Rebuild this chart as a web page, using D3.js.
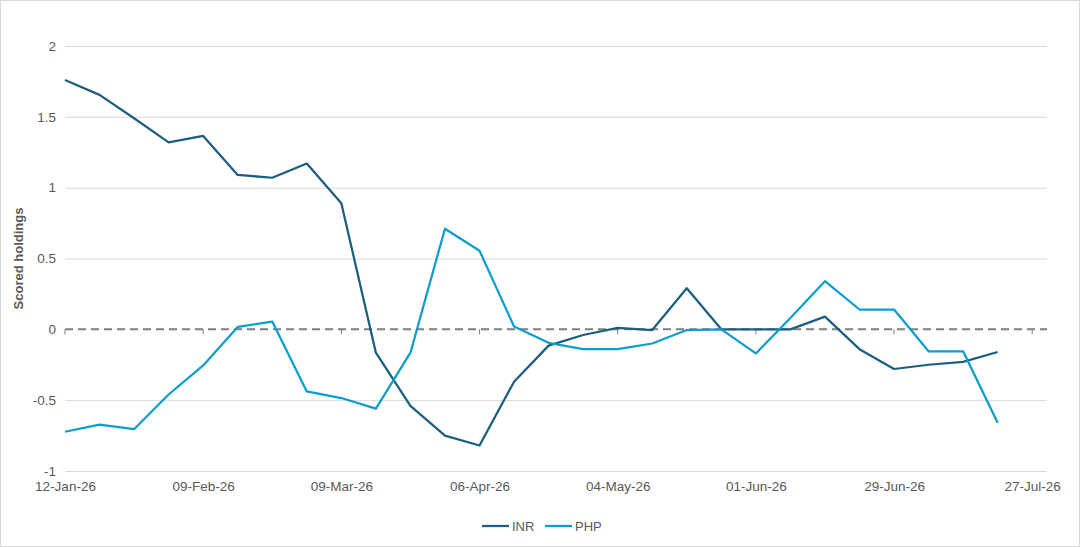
<!DOCTYPE html>
<html>
<head>
<meta charset="utf-8">
<script src="https://cdn.jsdelivr.net/npm/d3@7"></script>
<style>
  html, body { margin: 0; padding: 0; background: #fff; }
  svg { display: block; font-family: "Liberation Sans", Arial, sans-serif; }
</style>
</head>
<body>
<svg id="chart" width="1080" height="547"></svg>
<script>
const startDate = "2026-01-12";
const weekCount = 28;
const inrValues = [1.76, 1.655, 1.49, 1.32, 1.365, 1.09, 1.07, 1.17, 0.89, -0.165, -0.54, -0.75, -0.82, -0.37, -0.115, -0.04, 0.01, -0.005, 0.29, 0.0, 0.0, 0.0, 0.09, -0.14, -0.28, -0.25, -0.23, -0.16];
const phpValues = [-0.723, -0.672, -0.705, -0.46, -0.255, 0.017, 0.055, -0.438, -0.485, -0.56, -0.165, 0.71, 0.555, 0.02, -0.095, -0.14, -0.14, -0.10, -0.005, 0.0, -0.17, 0.08, 0.34, 0.14, 0.14, -0.155, -0.155, -0.66];
const xTickLabels = ["12-Jan-26", "09-Feb-26", "09-Mar-26", "06-Apr-26", "04-May-26", "01-Jun-26", "29-Jun-26", "27-Jul-26"];
const yTicks = [-1, -0.5, 0, 0.5, 1, 1.5, 2];
const seriesNames = ["INR", "PHP"];
const seriesColors = ["#1b5e7f", "#0c9dcb"];

const parse = d3.utcParse("%Y-%m-%d");
const parseLbl = d3.utcParse("%d-%b-%y");
const fmt = d3.utcFormat("%d-%b-%y");
const t0 = parse(startDate);
const dates = d3.range(weekCount).map(i => d3.utcDay.offset(t0, i * 7));
const series = [inrValues, phpValues].map((vals, si) => ({
  name: seriesNames[si], color: seriesColors[si],
  points: vals.map((v, i) => ({ date: dates[i], value: v }))
}));

const svg = d3.select("#chart");
const W = 1080, H = 547;
const m = { left: 65, right: 33, top: 46, bottom: 76 };

svg.append("rect").attr("x", 0.5).attr("y", 0.5).attr("width", W - 1).attr("height", H - 1)
  .attr("fill", "#fff").attr("stroke", "#d9d9d9");

const x = d3.scaleUtc()
  .domain([t0, d3.utcDay.offset(t0, 199)])
  .range([m.left, W - m.right]);
const y = d3.scaleLinear().domain([-1, 2]).range([H - m.bottom, m.top]);

// gridlines + y labels
const yAxis = d3.axisLeft(y).tickValues(yTicks).tickSize(-(W - m.left - m.right)).tickPadding(14)
  .tickFormat(d => String(d));
const gy = svg.append("g").attr("transform", `translate(${m.left},0)`).call(yAxis);
gy.select(".domain").remove();
gy.selectAll(".tick line").attr("stroke", "#d9d9d9").attr("stroke-width", 1)
  .attr("opacity", d => d === 0 ? 0 : 1);
gy.selectAll(".tick text").attr("fill", "#595959").attr("font-size", 13.5).attr("x", -9);

// x axis labels at bottom
const tickDates = xTickLabels.map(s => parseLbl(s));
const xAxis = d3.axisBottom(x).tickValues(tickDates).tickFormat(fmt).tickSize(0).tickPadding(10);
const gx = svg.append("g").attr("transform", `translate(0,${H - m.bottom})`).call(xAxis);
gx.select(".domain").remove();
gx.selectAll(".tick text").attr("fill", "#595959").attr("font-size", 13.5);

// zero axis (dashed) with tick marks
const zeroY = y(0);
svg.append("line").attr("x1", m.left).attr("x2", W - m.right).attr("y1", zeroY).attr("y2", zeroY)
  .attr("stroke", "#7f7f7f").attr("stroke-width", 2).attr("stroke-dasharray", "8,5");
svg.append("g").selectAll("line").data(tickDates).join("line")
  .attr("x1", d => x(d)).attr("x2", d => x(d)).attr("y1", zeroY).attr("y2", zeroY + 5)
  .attr("stroke", "#7f7f7f").attr("stroke-width", 1);

// lines
const line = d3.line().x(d => x(d.date)).y(d => y(d.value));
svg.append("g").selectAll("path").data(series).join("path")
  .attr("d", d => line(d.points)).attr("fill", "none")
  .attr("stroke", d => d.color).attr("stroke-width", 2.25).attr("stroke-linejoin", "round");

// y-axis title
svg.append("text").attr("transform", `translate(23,${(m.top + H - m.bottom) / 2}) rotate(-90)`)
  .attr("text-anchor", "middle").attr("font-size", 13).attr("font-weight", "bold").attr("fill", "#595959")
  .text("Scored holdings");

// legend
const leg = svg.append("g").attr("transform", "translate(482,526)");
const legX = [0, 63];
series.forEach((s, i) => {
  const g = leg.append("g").attr("transform", `translate(${legX[i]},0)`);
  g.append("line").attr("x1", 0).attr("x2", 27).attr("y1", 0).attr("y2", 0)
    .attr("stroke", s.color).attr("stroke-width", 2.25);
  g.append("text").attr("x", 30).attr("y", 4.5).attr("font-size", 13).attr("fill", "#595959").text(s.name);
});
</script>
</body>
</html>
